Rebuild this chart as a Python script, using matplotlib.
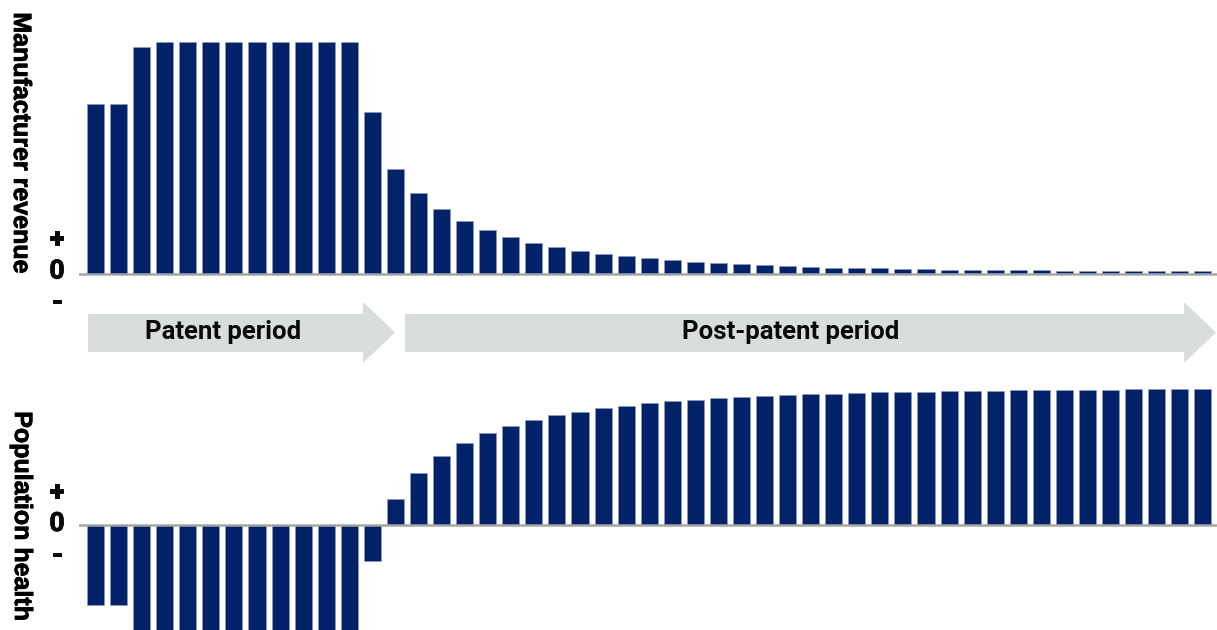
import matplotlib
matplotlib.use("Agg")
import matplotlib.pyplot as plt
from matplotlib.patches import Polygon
from matplotlib import font_manager as fm
import matplotlib.patheffects as pe
import numpy as np

# ---- data (relative units) ----
periods = list(range(1, 50))
revenue = [169, 169, 226, 231, 231, 231, 231, 231, 231, 231, 231, 231, 161,
           104, 80, 63.3, 51.7, 42.7, 35.7, 29.7, 25.7, 22, 19, 16.3, 14.3,
           12.3, 10.7, 9.3, 8.3, 7.3, 6.3, 6, 5, 4.3, 4.3, 4, 3.3, 3, 3,
           2.3, 2.3, 2.3, 2, 1.7, 1.7, 1.3, 1.3, 1.3, 1.3]
health = [-80.7, -80.7, -110, -110, -110, -110, -110, -110, -110, -110, -110, -110, -36,
          25.3, 51.3, 69, 81.7, 91.3, 98.3, 104.7, 109.7, 113, 116.3, 119, 121.3,
          123.3, 125, 126.3, 127.7, 128.7, 129.7, 130.3, 131, 131.7, 132.3, 132.7,
          133, 133.3, 133.7, 134, 134.3, 134.7, 134.7, 135, 135, 135.3, 135.3,
          135.3, 135.7]
top_label = "Manufacturer revenue"
bottom_label = "Population health"
period_labels = ["Patent period", "Post-patent period"]
sign_labels = ["+", "0", "-"]

W, H = 1217, 630
BAR = "#012169"
ZERO = "#a6a6a6"
ARROW = "#d9dddc"
TXT = "#0a0a0a"

fig = plt.figure(figsize=(W / 100, H / 100), dpi=100)

x = np.arange(len(periods))
pitch = 23.07
x0_px = 95.5
left_px, right_px = 79, W
xlim = ((left_px - x0_px) / pitch, (right_px - x0_px) / pitch)

def add_ax(top_px, bot_px, zero_px):
    ax = fig.add_axes([left_px / W, 1 - bot_px / H, (right_px - left_px) / W, (bot_px - top_px) / H])
    ax.set_xlim(*xlim)
    ax.set_ylim(-(bot_px - zero_px), zero_px - top_px)
    ax.axis("off")
    return ax

ax1 = add_ax(0, 300, 272.5)
ax1.bar(x, revenue, width=0.74, color=BAR, edgecolor="#8e9cc0", linewidth=0.4, zorder=3)
ax1.axhline(-1.0, color=ZERO, lw=1.8, zorder=2)

ax2 = add_ax(380, 630, 524.5)
ax2.bar(x, health, width=0.74, color=BAR, edgecolor="#8e9cc0", linewidth=0.4, zorder=3)
ax2.axhline(0, color=ZERO, lw=1.8, zorder=4)

# overlay in pixel coordinates for annotations
ov = fig.add_axes([0, 0, 1, 1], zorder=-1)
ov.set_xlim(0, W)
ov.set_ylim(H, 0)
ov.axis("off")

def arrow(x_start, x_head, x_tip):
    pts = [(x_start, 314), (x_head, 314), (x_head, 302), (x_tip, 332.5),
           (x_head, 363), (x_head, 352), (x_start, 352)]
    ov.add_patch(Polygon(pts, closed=True, facecolor=ARROW, edgecolor="none"))

arrow(88, 363, 395)
arrow(405, 1184, 1216)

ov2 = fig.add_axes([0, 0, 1, 1], zorder=5)
ov2.set_xlim(0, W)
ov2.set_ylim(H, 0)
ov2.axis("off")

fp = dict(family="Roboto", weight="bold", color=TXT)
ov2.text(223, 332, period_labels[0], ha="center", va="center", fontsize=18.5, **fp)
ov2.text(791, 332, period_labels[1], ha="center", va="center", fontsize=18.5, **fp)

bold_path = fm.findfont(fm.FontProperties(family="Liberation Sans", weight="bold"))
lab_font = fm.FontProperties(fname=bold_path, size=18)
stroke = [pe.withStroke(linewidth=0.6, foreground="black")]
lab = dict(fontproperties=lab_font, color="black", rotation=-90, ha="center", va="center",
           path_effects=stroke)
ov2.text(21, 143, top_label, **lab)
ov2.text(22, 516, bottom_label, **lab)

sign_stroke = [pe.withStroke(linewidth=0.7, foreground=TXT)]
for yy, s in zip([240, 271.5, 303], sign_labels):
    ov2.text(57, yy, s, ha="center", va="center", fontsize=19, path_effects=sign_stroke, **fp)
for yy, s in zip([493, 524, 556], sign_labels):
    ov2.text(57, yy, s, ha="center", va="center", fontsize=19, path_effects=sign_stroke, **fp)

fig.savefig("out.png", dpi=100, facecolor="white")
